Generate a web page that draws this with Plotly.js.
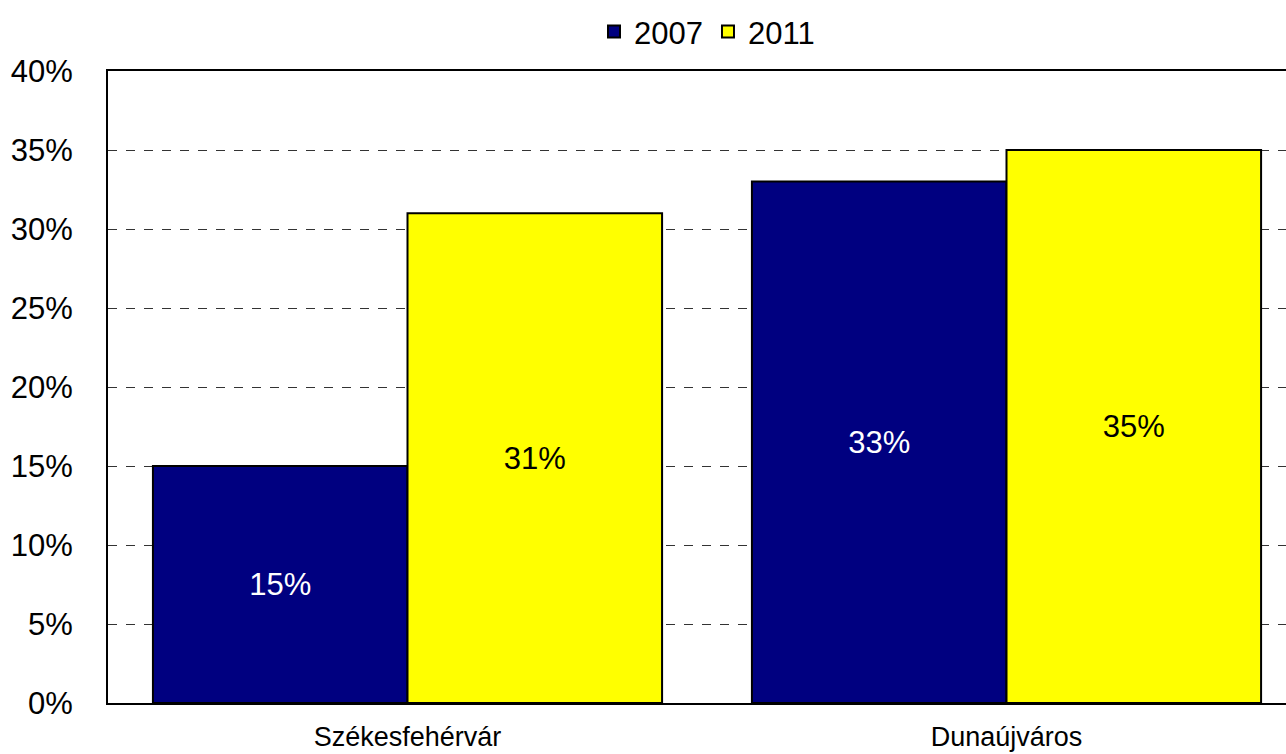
<!DOCTYPE html>
<html>
<head>
<meta charset="utf-8">
<script src="https://cdn.plot.ly/plotly-3.0.1.min.js"></script>
<style>
html,body{margin:0;padding:0;overflow:hidden;background:#fff;}
#chart{width:1330px;height:754px;}
</style>
</head>
<body>
<div id="chart"></div>
<script>
const categories = ["Székesfehérvár", "Dunaújváros"];
const series2007 = [15, 33];
const series2011 = [31, 35];
const seriesNames = ["2007", "2011"];
const yTicks = [0, 5, 10, 15, 20, 25, 30, 35, 40];
const yTickLabels = ["0%", "5%", "10%", "15%", "20%", "25%", "30%", "35%", "40%"];

const mainFont = "Liberation Sans, Arial, sans-serif";
const pct = v => v + "%";

const traces = [
  {
    type: "bar", name: seriesNames[0], x: categories, y: series2007,
    marker: {color: "#000080", line: {color: "#000000", width: 2}},
    text: series2007.map(pct), textposition: "inside", insidetextanchor: "middle",
    textfont: {family: mainFont, size: 31, color: "#ffffff"},
    hoverinfo: "skip"
  },
  {
    type: "bar", name: seriesNames[1], x: categories, y: series2011,
    marker: {color: "#ffff00", line: {color: "#000000", width: 2}},
    text: series2011.map(pct), textposition: "inside", insidetextanchor: "middle",
    textfont: {family: mainFont, size: 31, color: "#000000"},
    hoverinfo: "skip"
  }
];

const layout = {
  width: 1330, height: 754,
  margin: {l: 108, r: 24, t: 71, b: 51, autoexpand: false},
  paper_bgcolor: "#ffffff", plot_bgcolor: "#ffffff",
  barmode: "group", bargap: 0.15, bargroupgap: 0,
  showlegend: true,
  legend: {
    orientation: "h", x: 0.5, xanchor: "center", y: 1.062, yanchor: "middle",
    font: {family: mainFont, size: 31, color: "#000000"},
    traceorder: "normal"
  },
  xaxis: {
    type: "category", range: [-0.5, 1.5],
    showline: true, linecolor: "#000000", linewidth: 2, mirror: true,
    showgrid: false, ticks: "",
    tickfont: {family: mainFont, size: 27, color: "#000000"},
    ticklabelstandoff: 9
  },
  yaxis: {
    range: [0, 40], tickmode: "array", tickvals: yTicks, ticktext: yTickLabels,
    showline: true, linecolor: "#000000", linewidth: 2, mirror: true,
    showgrid: true, gridcolor: "#333333", gridwidth: 1, griddash: "dash",
    zeroline: false, ticks: "",
    tickfont: {family: mainFont, size: 31, color: "#000000"},
    ticklabelstandoff: 27
  },
  font: {family: mainFont, color: "#000000"}
};

Plotly.newPlot("chart", traces, layout, {displayModeBar: false, staticPlot: true});
</script>
</body>
</html>
